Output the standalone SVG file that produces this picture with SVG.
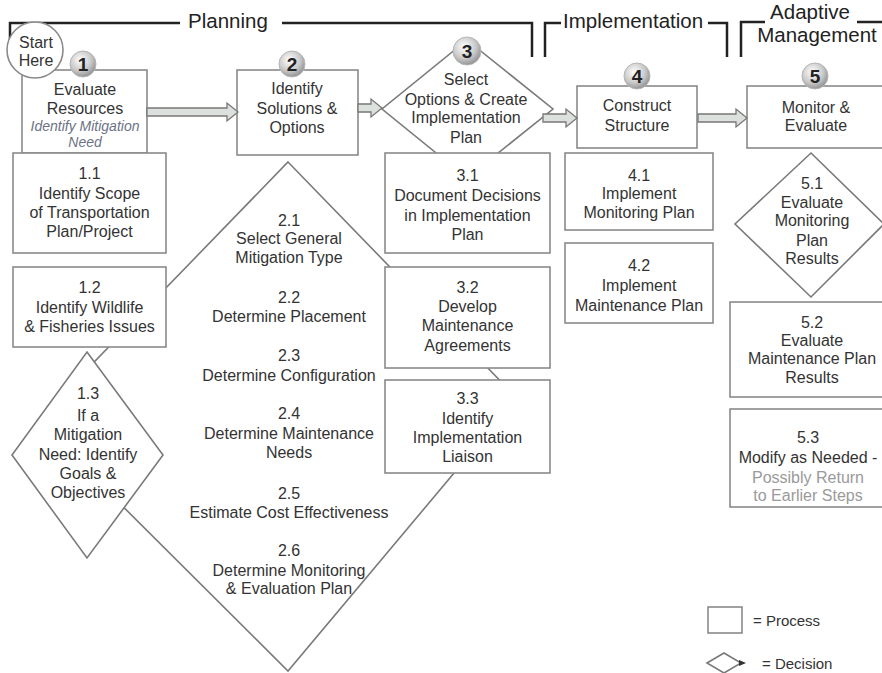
<svg xmlns="http://www.w3.org/2000/svg" width="882" height="673" viewBox="0 0 882 673">
<defs>
<radialGradient id="ball" cx="0.4" cy="0.35" r="0.7">
<stop offset="0" stop-color="#ffffff"/>
<stop offset="0.6" stop-color="#c8c8c8"/>
<stop offset="1" stop-color="#8a8a8a"/>
</radialGradient>
</defs>
<style>
text{font-family:"Liberation Sans",Arial,sans-serif;font-size:16px;fill:#333;text-anchor:middle}
.box{fill:#fff;stroke:#8a8a8a;stroke-width:1.6}
.dia{fill:#fff;stroke:#7a7a7a;stroke-width:1.6}
.hdr{fill:none;stroke:#222;stroke-width:2.5}
.htxt{font-size:20.5px;fill:#222}
.arrow{fill:#dde1dd;stroke:#777;stroke-width:1.3}
.badge{fill:url(#ball);stroke:#b5b5b5;stroke-width:1}
.num{font-size:19px;font-weight:bold;fill:#222}
.it{font-style:italic;font-size:14px;fill:#6b7285}
.grey{fill:#9a9a9a}
.leg{text-anchor:start;font-size:15px}
</style>
<rect width="882" height="673" fill="#fff"/>

<g id="headers">
<path class="hdr" d="M10,50 V23 H180 M282,23 H532 V57 M545,57 V23 H561 M708,23 H727 V57 M741,57 V22 H765 M857,22 H884"/>
<text class="htxt" x="228" y="28">Planning</text>
<text class="htxt" x="563" y="28" style="text-anchor:start">Implementation</text>
<text class="htxt" x="810" y="19">Adaptive</text>
<text class="htxt" x="817" y="42">Management</text>
</g>

<g id="n2x">
<polygon class="dia" points="288,162 517,398 288,671 37,421"/>
<text x="289" y="225.5">2.1</text>
<text x="289" y="243.5">Select General</text>
<text x="289" y="262.5">Mitigation Type</text>
<text x="289" y="302.5">2.2</text>
<text x="289" y="321.5">Determine Placement</text>
<text x="289" y="360.5">2.3</text>
<text x="289" y="380.5">Determine Configuration</text>
<text x="289" y="418.5">2.4</text>
<text x="289" y="438.5">Determine Maintenance</text>
<text x="289" y="457.5">Needs</text>
<text x="289" y="498.5">2.5</text>
<text x="289" y="517.5">Estimate Cost Effectiveness</text>
<text x="289" y="555.5">2.6</text>
<text x="289" y="575.5">Determine Monitoring</text>
<text x="289" y="593.5">&amp; Evaluation Plan</text>
</g>

<g id="n1">
<rect class="box" x="22" y="70" width="125" height="83"/>
<text x="85" y="95">Evaluate</text>
<text x="85" y="114">Resources</text>
<text class="it" x="85" y="131">Identify Mitigation</text>
<text class="it" x="85" y="147">Need</text>
</g>

<g id="n2">
<rect class="box" x="237" y="70" width="121" height="85"/>
<text x="297" y="93.5">Identify</text>
<text x="297" y="113.5">Solutions &amp;</text>
<text x="297" y="132.5">Options</text>
</g>

<g id="n3">
<polygon class="dia" points="467,40 553,109 467,178 382,109"/>
<text x="466" y="84.5">Select</text>
<text x="466" y="104.5">Options &amp; Create</text>
<text x="466" y="122.5">Implementation</text>
<text x="466" y="142.5">Plan</text>
</g>

<g id="n4">
<rect class="box" x="577" y="86" width="120" height="62"/>
<text x="637" y="110.5">Construct</text>
<text x="637" y="130.5">Structure</text>
</g>

<g id="n5">
<rect class="box" x="747" y="86" width="145" height="62"/>
<text x="816" y="112.5">Monitor &amp;</text>
<text x="816" y="130.5">Evaluate</text>
</g>

<g id="n1_1">
<rect class="box" x="13" y="153" width="153" height="100"/>
<text x="89.5" y="178.5">1.1</text>
<text x="89.5" y="198.5">Identify Scope</text>
<text x="89.5" y="217.5">of Transportation</text>
<text x="89.5" y="236.5">Plan/Project</text>
</g>

<g id="n1_2">
<rect class="box" x="13" y="267" width="153" height="80"/>
<text x="89.5" y="292.5">1.2</text>
<text x="89.5" y="312.5">Identify Wildlife</text>
<text x="89.5" y="331.5">&amp; Fisheries Issues</text>
</g>

<g id="n1_3">
<polygon class="dia" points="87,352 163,455 87,558 12,455"/>
<text x="88" y="398.5">1.3</text>
<text x="88" y="420.5">If a</text>
<text x="88" y="439.5">Mitigation</text>
<text x="88" y="459.5">Need: Identify</text>
<text x="88" y="478.5">Goals &amp;</text>
<text x="88" y="497.5">Objectives</text>
</g>

<g id="n3_1">
<rect class="box" x="385" y="153" width="165" height="100"/>
<text x="467.5" y="180.5">3.1</text>
<text x="467.5" y="200.5">Document Decisions</text>
<text x="467.5" y="220.5">in Implementation</text>
<text x="467.5" y="239.5">Plan</text>
</g>

<g id="n3_2">
<rect class="box" x="385" y="267" width="165" height="101"/>
<text x="467.5" y="292.5">3.2</text>
<text x="467.5" y="311.5">Develop</text>
<text x="467.5" y="330.5">Maintenance</text>
<text x="467.5" y="350.5">Agreements</text>
</g>

<g id="n3_3">
<rect class="box" x="385" y="380" width="165" height="93"/>
<text x="467.5" y="403.5">3.3</text>
<text x="467.5" y="423.5">Identify</text>
<text x="467.5" y="442.5">Implementation</text>
<text x="467.5" y="461.5">Liaison</text>
</g>

<g id="n4_1">
<rect class="box" x="565" y="153" width="148" height="77"/>
<text x="639" y="180.5">4.1</text>
<text x="639" y="198.5">Implement</text>
<text x="639" y="217.5">Monitoring Plan</text>
</g>

<g id="n4_2">
<rect class="box" x="565" y="243" width="148" height="80"/>
<text x="639" y="270.5">4.2</text>
<text x="639" y="290.5">Implement</text>
<text x="639" y="310.5">Maintenance Plan</text>
</g>

<g id="n5_1">
<polygon class="dia" points="811,153 884,224 811,297 735,224"/>
<text x="812" y="188.5">5.1</text>
<text x="812" y="207.5">Evaluate</text>
<text x="812" y="225.5">Monitoring</text>
<text x="812" y="245.5">Plan</text>
<text x="812" y="263.5">Results</text>
</g>

<g id="n5_2">
<rect class="box" x="730" y="302" width="160" height="95"/>
<text x="812" y="327.5">5.2</text>
<text x="812" y="345.5">Evaluate</text>
<text x="812" y="363.5">Maintenance Plan</text>
<text x="812" y="382.5">Results</text>
</g>

<g id="n5_3">
<rect class="box" x="730" y="409" width="160" height="98"/>
<text x="808" y="442.5">5.3</text>
<text x="808" y="462.5">Modify as Needed -</text>
<text class="grey" x="808" y="482.5">Possibly Return</text>
<text class="grey" x="808" y="500.5">to Earlier Steps</text>
</g>

<g id="connectors">
<path class="arrow" d="M147,108 H227 V103 L238,112 L227,121 V116 H147 Z"/>
<path class="arrow" d="M358,104 H371 V99 L382,108 L371,117 V112 H358 Z"/>
<path class="arrow" d="M543,114 H566 V109 L577,118 L566,127 V122 H543 Z"/>
<path class="arrow" d="M698,114 H736 V109 L747,118 L736,127 V122 H698 Z"/>
</g>

<g id="start">
<circle cx="35" cy="50" r="28" fill="#fff" stroke="#8a8a8a" stroke-width="1.6"/>
<text x="36" y="47.5">Start</text>
<text x="36" y="65.5">Here</text>
</g>

<g id="badges">
<circle class="badge" cx="83" cy="64" r="13"/><text class="num" x="83" y="71">1</text>
<circle class="badge" cx="292" cy="64" r="13"/><text class="num" x="292" y="71">2</text>
<circle class="badge" cx="467" cy="51" r="14"/><text class="num" x="467" y="58">3</text>
<circle class="badge" cx="637" cy="76" r="13"/><text class="num" x="637" y="83">4</text>
<circle class="badge" cx="815" cy="76" r="13"/><text class="num" x="815" y="83">5</text>
</g>

<g id="legend">
<rect class="box" x="708" y="607" width="34" height="26"/>
<text class="leg" x="753" y="625.5">= Process</text>
<polygon class="dia" points="707,663 724,653 741,663 724,673"/>
<polygon points="739,660 746,663 739,666" fill="#333"/>
<text class="leg" x="762" y="668.5">= Decision</text>
</g>
</svg>
